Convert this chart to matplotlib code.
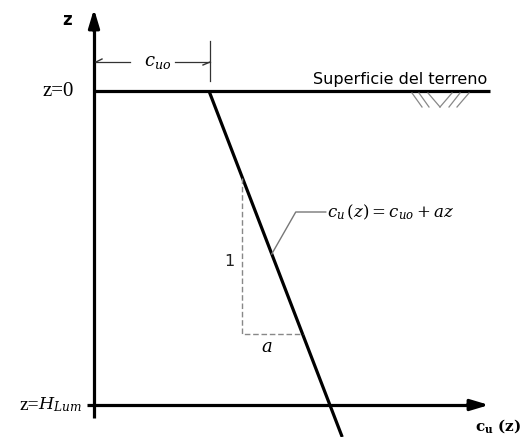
import matplotlib
matplotlib.use("Agg")
import matplotlib.pyplot as plt
import numpy as np

# ---- diagram parameters (in pixel-like units; x from z-axis, z downward from ground)
cu0 = 115.0          # undrained strength at ground level
a_slope = 0.385      # increase of cu per unit depth
H_lum = 314.0        # depth of bottom boundary
z_line_end = 346.0   # how far the cu(z) line extends below
tri_z = [87.0, 243.0]   # depths of the slope triangle
x_max = 395.0        # length of axes / ground line

# labels
lbl_z = "z"
lbl_z0 = "z=0"
lbl_ground = "Superficie del terreno"
lbl_cu0 = r"$c_{uo}$"
lbl_eq = r"$c_u\,(z) = c_{uo} + az$"
lbl_one = "1"
lbl_a = r"$a$"
lbl_cuz = r"$\mathbf{c_u}\ \mathbf{(z)}$"

plt.rcParams['mathtext.fontset'] = 'dejavuserif'

fig = plt.figure(figsize=(5.21, 4.37), dpi=100)
ax = fig.add_axes([0, 0, 1, 1])
ax.set_xlim(-94, 427)
ax.set_ylim(346, -91)
ax.axis('off')

lw = 2.3
# z axis
ax.plot([0, 0], [H_lum + 13, -72], color='black', lw=lw, solid_capstyle='butt')
ax.annotate('', xy=(0, -82), xytext=(0, -60),
            arrowprops=dict(arrowstyle='-|>,head_length=1.1,head_width=0.33', color='black', lw=lw,
                            shrinkA=0, shrinkB=0))
# horizontal axis at H
ax.plot([-7, x_max - 10], [H_lum, H_lum], color='black', lw=lw, solid_capstyle='butt')
ax.annotate('', xy=(x_max, H_lum), xytext=(x_max - 22, H_lum),
            arrowprops=dict(arrowstyle='-|>,head_length=1.1,head_width=0.33', color='black', lw=lw,
                            shrinkA=0, shrinkB=0))
# ground line
ax.plot([0, x_max + 1], [0, 0], color='black', lw=lw, solid_capstyle='butt')

# cu(z) line
zz = np.array([0.0, z_line_end])
ax.plot(cu0 + a_slope * zz, zz, color='black', lw=lw, solid_capstyle='butt')

# slope triangle
xt0 = cu0 + a_slope * tri_z[0]
xt1 = cu0 + a_slope * tri_z[1]
ax.plot([xt0, xt0, xt1], [tri_z[0], tri_z[1], tri_z[1]], color='#888888', lw=1.0, ls=(0, (4, 2)))
ax.text(xt0 - 13, (tri_z[0] + tri_z[1]) / 2 + 5, lbl_one, fontsize=11.5, ha='center', va='center',
        color='#222222', family='DejaVu Sans')
ax.text((xt0 + xt1) / 2 - 6, tri_z[1] + 13, lbl_a, fontsize=13, ha='center', va='center')

# leader line and equation
zp = 163.0
xp = cu0 + a_slope * zp
ax.plot([xp, xp + 24, xp + 54], [zp, zp - 42, zp - 42], color='#777777', lw=1.0)
ax.text(xp + 55, zp - 42, lbl_eq, fontsize=12, ha='left', va='center')

# dimension for cu0
ydim = -29
ax.plot([cu0 + 1, cu0 + 1], [-50, -10], color='#333333', lw=0.9)
ax.plot([2, 36], [ydim, ydim], color='#333333', lw=0.9)
ax.plot([81, cu0 + 1], [ydim, ydim], color='#333333', lw=0.9)
ax.plot([2, 8], [ydim, ydim - 3], color='#333333', lw=1.0)
ax.plot([cu0 + 1, cu0 - 6], [ydim, ydim + 3], color='#333333', lw=1.0)
ax.text(64, ydim, lbl_cu0, fontsize=13, ha='center', va='center')

# ground hatch
hatch = [((318, 2), (328, 16)), ((325, 2), (335, 16)), ((334, 2), (346, 16)),
         ((346, 16), (358, 2)), ((355, 16), (366, 2)), ((363, 16), (375, 2))]
for (p, q) in hatch:
    ax.plot([p[0], q[0]], [p[1], q[1]], color='#888888', lw=0.9)

# texts
ax.text(-27, -71, lbl_z, fontsize=12, fontweight='bold', ha='center', va='center', family='DejaVu Sans')
ax.text(-36, 0, lbl_z0, fontsize=15, ha='center', va='center', family='Liberation Serif')
ax.text(x_max - 2, -4, lbl_ground, fontsize=11.5, ha='right', va='bottom', family='DejaVu Sans')
ax.text(-55, H_lum, "z=", fontsize=14, ha='right', va='center', family='Liberation Serif')
ax.text(-56, H_lum, r"$H_{Lum}$", fontsize=12.5, ha='left', va='center')
ax.text(404, H_lum + 21, lbl_cuz, fontsize=11, ha='center', va='center')

fig.savefig("out.png", dpi=100)
